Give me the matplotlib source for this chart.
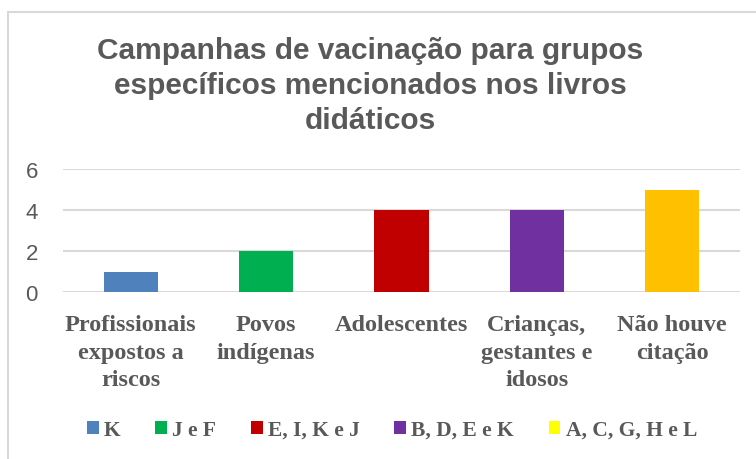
import matplotlib
matplotlib.use("Agg")
import matplotlib.pyplot as plt
from matplotlib.patches import Patch, Rectangle

# data
categories = [
    "Profissionais\nexpostos a\nriscos",
    "Povos\nindígenas",
    "Adolescentes",
    "Crianças,\ngestantes e\nidosos",
    "Não houve\ncitação",
]
counts = [1, 2, 4, 4, 5]
bar_colors = ["#4F81BD", "#00B050", "#C00000", "#7030A0", "#FFC000"]
legend_labels = ["K", "J e F", "E, I, K e J", "B, D, E e K", "A, C, G, H e L"]
legend_colors = ["#4F81BD", "#00B050", "#C00000", "#7030A0", "#FFFF00"]
yticks = [0, 2, 4, 6]

TXT = "#595959"
GRID = "#D9D9D9"

fig = plt.figure(figsize=(7.56, 4.6), dpi=100)

# chart frame (cropped on right/bottom in the original)
fig.patches.append(Rectangle((8 / 756, -0.05), 1.2, 1 - 13 / 460 + 0.05,
                             transform=fig.transFigure, fill=False,
                             edgecolor=GRID, linewidth=1.5))

ax = fig.add_axes([63 / 756, 1 - 293 / 460, (740 - 63) / 756, (293 - 170) / 460])
x = list(range(len(categories)))
ax.bar(x, counts, width=0.4, color=bar_colors, zorder=3)
ax.set_xlim(-0.5, 4.5)
ax.set_ylim(0, 6)
ax.set_yticks(yticks)
ax.set_yticklabels([str(v) for v in yticks], fontsize=16, color=TXT,
                   family="Liberation Sans")
ax.set_xticks(x)
ax.set_xticklabels(categories, fontsize=17.5, color=TXT, fontweight="bold",
                   family="Liberation Serif", linespacing=1.4)
ax.tick_params(axis="both", length=0)
ax.tick_params(axis="y", pad=18)
ax.tick_params(axis="x", pad=16)
ax.grid(axis="y", color=GRID, linewidth=1.5, zorder=0)
for s in ax.spines.values():
    s.set_visible(False)

fig.text(370 / 756, 1 - 86 / 460,
         "Campanhas de vacinação para grupos\nespecíficos mencionados nos livros\ndidáticos",
         ha="center", va="center", fontsize=21.5, fontweight="bold", color=TXT,
         family="Liberation Sans", linespacing=1.3)

handles = [Patch(facecolor=c, edgecolor="none") for c in legend_colors]
fig.legend(handles, legend_labels, loc="center", ncol=5,
           bbox_to_anchor=(392 / 756, 1 - 431 / 460), frameon=False,
           prop={"family": "Liberation Serif", "weight": "bold", "size": 15.5},
           labelcolor=TXT, handlelength=0.55, handleheight=0.55,
           handletextpad=0.25, columnspacing=1.6)

fig.savefig("out.png", dpi=100)
